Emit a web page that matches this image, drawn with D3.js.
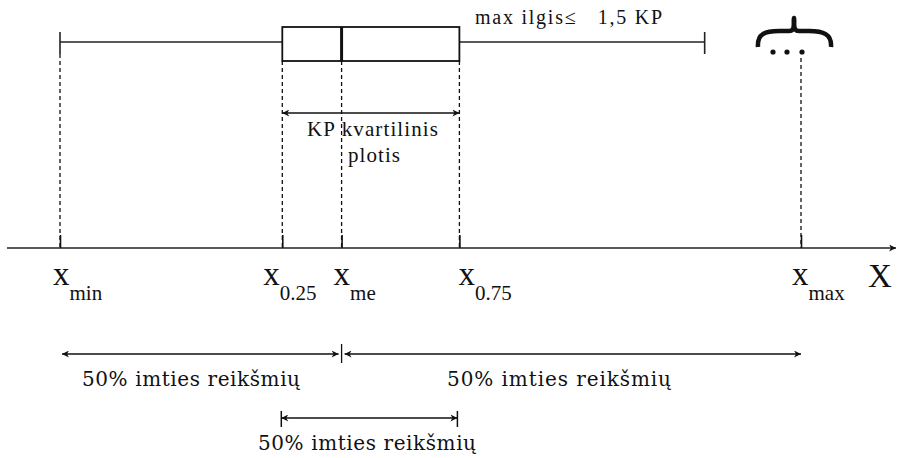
<!DOCTYPE html>
<html>
<head>
<meta charset="utf-8">
<script src="https://cdn.jsdelivr.net/npm/d3@7"></script>
<style>
  body { margin: 0; background: #fff; }
</style>
</head>
<body>
<div id="chart"></div>
<script>
// box plot statistics (abstract units along X)
var statNames = ["xmin", "q25", "me", "q75", "whiskerEnd", "xmax"];
var statValues = [0, 30, 38, 53.9, 87, 100];

// axis labels
var tickStats = ["xmin", "q25", "me", "q75", "xmax"];
var tickMain = ["x", "x", "x", "x", "x"];
var tickSub = ["min", "0.25", "me", "0.75", "max"];
var axisName = "X";

// annotation texts
var whiskerNote = "max ilgis\u2264   1,5 KP";
var iqrText = ["KP kvartilinis", "plotis"];
var halfText = "50% imties reikšmių";

var svgWidth = 899;
var svgHeight = 458;
var serif = "'Liberation Serif', serif";
var slab = "'DejaVu Serif', serif";

var stat = {};
statNames.forEach(function (n, i) { stat[n] = statValues[i]; });

var x = d3.scaleLinear().domain([0, 100]).range([60, 801]);

var svg = d3.select("#chart").append("svg")
    .attr("width", svgWidth)
    .attr("height", svgHeight)
    .style("font-family", serif);

// arrow heads
var defs = svg.append("defs");
defs.append("marker")
    .attr("id", "head")
    .attr("viewBox", "0 0 10 10")
    .attr("refX", 10).attr("refY", 5)
    .attr("markerWidth", 9).attr("markerHeight", 7)
    .attr("markerUnits", "userSpaceOnUse")
    .attr("orient", "auto-start-reverse")
    .append("path")
    .attr("d", "M0,0 L10,5 L0,10 L3,5 Z")
    .attr("fill", "#111");

var boxTop = 27, boxBottom = 61, midY = 42, axisY = 248;

// dashed guides
var guides = [
    { v: stat.xmin, y0: 54 },
    { v: stat.q25, y0: boxBottom },
    { v: stat.me, y0: boxBottom },
    { v: stat.q75, y0: boxBottom },
    { v: stat.xmax, y0: 58 }
];
svg.selectAll(".guide")
    .data(guides)
    .enter()
    .append("line")
    .attr("class", "guide")
    .attr("x1", d => x(d.v)).attr("x2", d => x(d.v))
    .attr("y1", d => d.y0).attr("y2", axisY)
    .attr("stroke", "#111")
    .attr("stroke-width", 1.3)
    .attr("stroke-dasharray", "4,3");

// whiskers
svg.append("line")
    .attr("x1", x(stat.xmin)).attr("x2", x(stat.q25))
    .attr("y1", midY).attr("y2", midY)
    .attr("stroke", "#222").attr("stroke-width", 1.6);
svg.append("line")
    .attr("x1", x(stat.q75)).attr("x2", x(stat.whiskerEnd))
    .attr("y1", midY).attr("y2", midY)
    .attr("stroke", "#222").attr("stroke-width", 1.6);
svg.selectAll(".wtick")
    .data([stat.xmin, stat.whiskerEnd])
    .enter()
    .append("line")
    .attr("class", "wtick")
    .attr("x1", d => x(d)).attr("x2", d => x(d))
    .attr("y1", 32).attr("y2", 54)
    .attr("stroke", "#222").attr("stroke-width", 1.6);

// box and median
svg.append("rect")
    .attr("x", x(stat.q25)).attr("y", boxTop)
    .attr("width", x(stat.q75) - x(stat.q25))
    .attr("height", boxBottom - boxTop)
    .attr("fill", "none")
    .attr("stroke", "#111").attr("stroke-width", 1.8);
svg.append("line")
    .attr("x1", x(stat.me)).attr("x2", x(stat.me))
    .attr("y1", boxTop).attr("y2", boxBottom)
    .attr("stroke", "#111").attr("stroke-width", 3);

svg.append("text")
    .attr("x", 475).attr("y", 24)
    .style("font-family", serif)
    .style("font-size", "20px")
    .attr("fill", "#111")
    .attr("textLength", 187)
    .attr("xml:space", "preserve")
    .text(whiskerNote);

// outliers: brace and dots
var bx = x(stat.xmax);
svg.append("path")
    .attr("d", `M${bx - 43},47 C${bx - 44},34 ${bx - 36},31 ${bx - 22},31 L${bx - 12},31 C${bx - 5},31 ${bx - 8},22 ${bx - 7},18 C${bx - 6},22 ${bx - 9},31 ${bx - 2},31 L${bx + 8},31 C${bx + 22},31 ${bx + 31},34 ${bx + 30},47`)
    .attr("fill", "none")
    .attr("stroke", "#111")
    .attr("stroke-width", 4.5)
    .attr("stroke-linejoin", "round");
svg.selectAll(".dot")
    .data([-28, -14, 1])
    .enter()
    .append("circle")
    .attr("class", "dot")
    .attr("cx", d => bx + d).attr("cy", 52).attr("r", 2.6)
    .attr("fill", "#111");

// IQR arrow
svg.append("line")
    .attr("x1", x(stat.q25)).attr("x2", x(stat.q75))
    .attr("y1", 113).attr("y2", 113)
    .attr("stroke", "#111").attr("stroke-width", 1.3)
    .attr("marker-start", "url(#head)")
    .attr("marker-end", "url(#head)");
svg.append("text")
    .attr("x", 307).attr("y", 136)
    .style("font-family", serif)
    .style("font-size", "21px")
    .attr("fill", "#111")
    .attr("textLength", 131)
    .text(iqrText[0]);
svg.append("text")
    .attr("x", 348).attr("y", 162)
    .style("font-family", serif)
    .style("font-size", "21px")
    .attr("fill", "#111")
    .attr("textLength", 52)
    .text(iqrText[1]);

// X axis
svg.append("line")
    .attr("x1", 7).attr("x2", 896)
    .attr("y1", axisY).attr("y2", axisY)
    .attr("stroke", "#222").attr("stroke-width", 1.6)
    .attr("marker-end", "url(#head)");

var axis = d3.axisTop(x)
    .tickValues(tickStats.map(n => stat[n]))
    .tickSize(13)
    .tickFormat("");
var axisG = svg.append("g")
    .attr("transform", `translate(0, ${axisY})`)
    .call(axis);
axisG.select(".domain").remove();
axisG.selectAll(".tick line").attr("stroke", "#111").attr("stroke-width", 1.6);

// axis labels
var labelDx = [-7, -19, -8, -1, -9];
var labels = svg.selectAll(".xlab")
    .data(tickStats)
    .enter()
    .append("text")
    .attr("class", "xlab")
    .attr("x", (d, i) => x(stat[d]) + labelDx[i])
    .attr("y", 285)
    .attr("fill", "#111")
    .style("font-family", serif)
    .style("font-size", "33px");
labels.append("tspan").text((d, i) => tickMain[i]);
labels.append("tspan")
    .style("font-size", "21px")
    .attr("dy", 15)
    .text((d, i) => tickSub[i]);

svg.append("text")
    .attr("x", 868).attr("y", 287)
    .style("font-family", serif)
    .style("font-size", "33px")
    .attr("fill", "#111")
    .text(axisName);

// 50% arrows
var halfY = 354;
svg.append("line")
    .attr("x1", x(stat.xmin) + 2).attr("x2", x(stat.me) - 3)
    .attr("y1", halfY).attr("y2", halfY)
    .attr("stroke", "#111").attr("stroke-width", 1.3)
    .attr("marker-start", "url(#head)")
    .attr("marker-end", "url(#head)");
svg.append("line")
    .attr("x1", x(stat.me) + 3).attr("x2", x(stat.xmax))
    .attr("y1", halfY).attr("y2", halfY)
    .attr("stroke", "#111").attr("stroke-width", 1.3)
    .attr("marker-start", "url(#head)")
    .attr("marker-end", "url(#head)");
svg.append("line")
    .attr("x1", x(stat.me)).attr("x2", x(stat.me))
    .attr("y1", halfY - 10).attr("y2", halfY + 9)
    .attr("stroke", "#111").attr("stroke-width", 1.3);

var iqrY = 418;
svg.append("line")
    .attr("x1", x(stat.q25) - 1).attr("x2", x(stat.q75) - 2)
    .attr("y1", iqrY).attr("y2", iqrY)
    .attr("stroke", "#111").attr("stroke-width", 1.3)
    .attr("marker-start", "url(#head)")
    .attr("marker-end", "url(#head)");
svg.selectAll(".ebar")
    .data([stat.q25, stat.q75])
    .enter()
    .append("line")
    .attr("class", "ebar")
    .attr("x1", (d, i) => x(d) - 1 - i).attr("x2", (d, i) => x(d) - 1 - i)
    .attr("y1", iqrY - 7).attr("y2", iqrY + 9)
    .attr("stroke", "#111").attr("stroke-width", 1.5);

var halfLabels = [
    { x: 82, y: 386, w: 218 },
    { x: 447, y: 386, w: 224 },
    { x: 258, y: 450, w: 218 }
];
svg.selectAll(".half")
    .data(halfLabels)
    .enter()
    .append("text")
    .attr("class", "half")
    .attr("x", d => d.x).attr("y", d => d.y)
    .style("font-family", slab)
    .style("font-size", "20px")
    .attr("fill", "#111")
    .attr("textLength", d => d.w)
    .text(halfText);
</script>
</body>
</html>
